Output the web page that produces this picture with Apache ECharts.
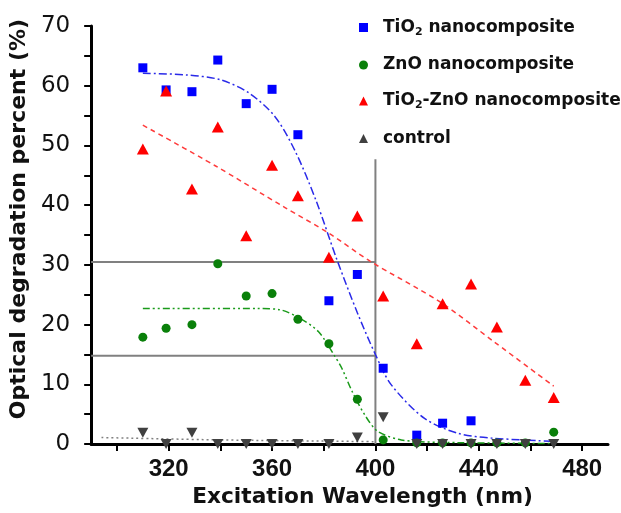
<!DOCTYPE html>
<html>
<head>
<meta charset="utf-8">
<script src="https://cdn.jsdelivr.net/npm/echarts@6/dist/echarts.min.js"></script>
<style>
  html, body { margin: 0; padding: 0; background: #fff; }
  #chart { width: 621px; height: 513px; }
</style>
</head>
<body>
<div id="chart"></div>
<script>
// measured points
const tio2X = [310, 319, 329, 339, 350, 360, 370, 382, 393, 403, 416, 426, 437];
const tio2Y = [63.0, 59.3, 59.0, 64.3, 57.0, 59.4, 51.8, 24.0, 28.4, 12.7, 1.5, 3.5, 3.9];
const znoX = [310, 319, 329, 339, 350, 360, 370, 382, 393, 403, 416, 426, 437, 447, 458, 469];
const znoY = [17.9, 19.4, 20.0, 30.2, 24.8, 25.2, 20.9, 16.8, 7.5, 0.7, 0.2, 0.2, 0.2, 0.2, 0.2, 2.0];
const mixX = [310, 319, 329, 339, 350, 360, 370, 382, 393, 403, 416, 426, 437, 447, 458, 469];
const mixY = [49.4, 59.1, 42.7, 53.1, 34.9, 46.7, 41.6, 31.3, 38.2, 24.8, 16.8, 23.5, 26.8, 19.6, 10.7, 7.8];
const controlX = [310, 319, 329, 339, 350, 360, 370, 382, 393, 403, 416, 426, 437, 447, 458, 469];
const controlY = [1.9, 0, 1.9, 0, 0, 0, 0, 0, 1.1, 4.5, 0, 0, 0, 0, 0, 0];

// fitted curves
const tio2FitX = [310, 327, 340, 351, 361, 369, 377, 385, 393, 400, 406, 419, 432, 445, 470];
const tio2FitY = [62.1, 61.8, 61.0, 58.8, 54.9, 49.0, 40.8, 31.0, 22.0, 15.0, 10.0, 4.3, 1.8, 1.0, 0.45];
const znoFitX = [310, 354, 363, 371, 378, 384, 387, 391, 396, 401, 410, 425, 469];
const znoFitY = [22.7, 22.7, 22.5, 21.0, 18.8, 14.9, 12.7, 8.8, 4.8, 2.1, 0.7, 0.3, 0.1];
const mixFitX = [310, 338, 365, 382, 398, 425, 446, 469];
const mixFitY = [53.4, 46.6, 39.6, 35.3, 30.6, 23.8, 17.1, 9.7];
const controlFitX = [294, 340, 392, 400];
const controlFitY = [1.1, 0.7, 0.45, 0.4];

// guide lines
const guideLevels = [30.5, 14.8];
const guideX = 400;
const guideTop = 47.7;

// axis ticks
const xTicks = [300, 320, 340, 360, 380, 400, 420, 440, 460, 480];
const xLabels = [320, 360, 400, 440, 480];

const names = ['TiO2 nanocomposite', 'ZnO nanocomposite', 'TiO2-ZnO nanocomposite', 'control'];
const legendText = {
  'TiO2 nanocomposite': '{b|TiO}{s|2}{b| nanocomposite}',
  'ZnO nanocomposite': '{b|ZnO nanocomposite}',
  'TiO2-ZnO nanocomposite': '{b|TiO}{s|2}{b|-ZnO nanocomposite}',
  'control': '{b|control}'
};

const arial = 'Arial, "Liberation Sans", sans-serif';
const wide = '"DejaVu Sans", Verdana, sans-serif';
const zip = (xs, ys) => xs.map((x, i) => [x, ys[i]]);

function fitLine(xs, ys, color, dash, width) {
  return {
    type: 'line',
    data: zip(xs, ys),
    smooth: 0.3,
    symbol: 'none',
    silent: true,
    z: 3,
    lineStyle: { color: color, width: width || 1.5, type: dash }
  };
}

function guide(points) {
  return {
    type: 'line',
    data: points,
    symbol: 'none',
    silent: true,
    z: 1,
    lineStyle: { color: '#808080', width: 2 }
  };
}

const chart = echarts.init(document.getElementById('chart'));
chart.setOption({
  animation: false,
  textStyle: { fontFamily: arial },
  grid: { left: 89, right: 13, top: 26, bottom: 67 },
  legend: {
    data: names,
    orient: 'vertical',
    left: 354,
    top: 14,
    itemWidth: 9,
    itemHeight: 9,
    itemGap: 19,
    formatter: n => legendText[n],
    textStyle: {
      padding: [0, 0, 0, 10],
      rich: {
        b: { fontSize: 17, fontWeight: 'bold', color: '#111', fontFamily: wide },
        s: { fontSize: 11, fontWeight: 'bold', color: '#111', fontFamily: wide, padding: [9, 0, 0, 0] }
      }
    }
  },
  xAxis: {
    type: 'value',
    min: 290,
    max: 490,
    name: 'Excitation Wavelength (nm)',
    nameLocation: 'middle',
    nameGap: 39,
    nameTextStyle: {
      fontSize: 21.7, fontWeight: 'bold', color: '#111', fontFamily: wide,
      padding: [0, 0, 0, 26]
    },
    splitLine: { show: false },
    axisLine: { onZero: false, lineStyle: { color: '#000', width: 3 } },
    axisTick: { customValues: xTicks, length: 7, lineStyle: { color: '#000', width: 2 } },
    axisLabel: {
      customValues: xLabels,
      margin: 13,
      fontSize: 24,
      fontWeight: 'bold',
      color: '#111',
      fontFamily: arial
    }
  },
  yAxis: {
    type: 'value',
    min: 0,
    max: 70,
    interval: 10,
    name: 'Optical degradation percent (%)',
    nameLocation: 'middle',
    nameGap: 48,
    nameTextStyle: {
      fontSize: 22, fontWeight: 'bold', color: '#111', fontFamily: wide,
      padding: [0, 0, 0, 32]
    },
    splitLine: { show: false },
    axisLine: { show: true, lineStyle: { color: '#000', width: 3 } },
    axisTick: { show: true, length: 7, lineStyle: { color: '#000', width: 2 } },
    minorTick: { show: true, splitNumber: 2, length: 7, lineStyle: { color: '#000', width: 2 } },
    axisLabel: { margin: 21, fontSize: 23, color: '#111', fontFamily: wide }
  },
  series: [
    guide([[290, guideLevels[0]], [guideX, guideLevels[0]]]),
    guide([[290, guideLevels[1]], [guideX, guideLevels[1]]]),
    guide([[guideX, 0], [guideX, guideTop]]),
    fitLine(tio2FitX, tio2FitY, '#2a2ae8', [8, 3, 2, 3]),
    fitLine(znoFitX, znoFitY, '#1a9a1a', [7, 3, 2, 3, 2, 3]),
    fitLine(mixFitX, mixFitY, '#ff3b3b', [5, 4]),
    fitLine(controlFitX, controlFitY, '#808080', [2, 3]),
    {
      name: names[0], type: 'scatter', data: zip(tio2X, tio2Y), z: 5,
      symbol: 'rect', symbolSize: 9, itemStyle: { color: '#0000ff', opacity: 1 }
    },
    {
      name: names[1], type: 'scatter', data: zip(znoX, znoY), z: 5,
      symbol: 'circle', symbolSize: 9, itemStyle: { color: '#0a800a', opacity: 1 }
    },
    {
      name: names[2], type: 'scatter', data: zip(mixX, mixY), z: 5,
      symbol: 'triangle', symbolSize: [12, 11], itemStyle: { color: '#ff0000', opacity: 1 }
    },
    {
      name: names[3], type: 'scatter', data: zip(controlX, controlY), z: 5,
      symbol: 'triangle', symbolRotate: 180, symbolSize: [11, 10], itemStyle: { color: '#404040', opacity: 1 }
    }
  ]
});
</script>
</body>
</html>
